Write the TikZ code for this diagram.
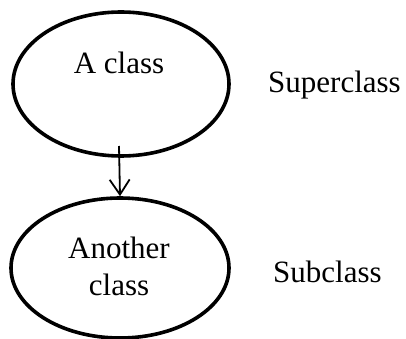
\documentclass[tikz,border=0pt]{standalone}
\usepackage{fontspec}
\setmainfont{Liberation Serif}
\usetikzlibrary{shapes.geometric,arrows.meta}
\begin{document}
\begin{tikzpicture}[x=1pt,y=-1pt,
  classell/.style={draw,ellipse,line width=3.6pt,inner sep=0pt},
  lbl/.style={font=\fontsize{31}{37}\selectfont,inner sep=0pt,anchor=base},
  inherit/.style={line width=1.8pt,-{Straight Barb[length=15pt,width=20pt,line width=1.8pt]}}]
\useasboundingbox (0,0) rectangle (406,339);
\node[classell,minimum width=216pt,minimum height=144pt] (sup) at (121,84) {};
\node[classell,minimum width=218pt,minimum height=140pt] (sub) at (120,268) {};
\node[lbl] (t1) at (119,74) {A class};
\node[lbl] (t2) at (119,258) {Another};
\node[lbl] (t3) at (119,295) {class};
\node[lbl,anchor=base west] (t4) at (268,93) {Superclass};
\node[lbl,anchor=base west] (t5) at (273,282) {Subclass};
\coordinate (s) at (119,146);
\draw[inherit] (s) -- (sub.north);
\end{tikzpicture}
\end{document}
